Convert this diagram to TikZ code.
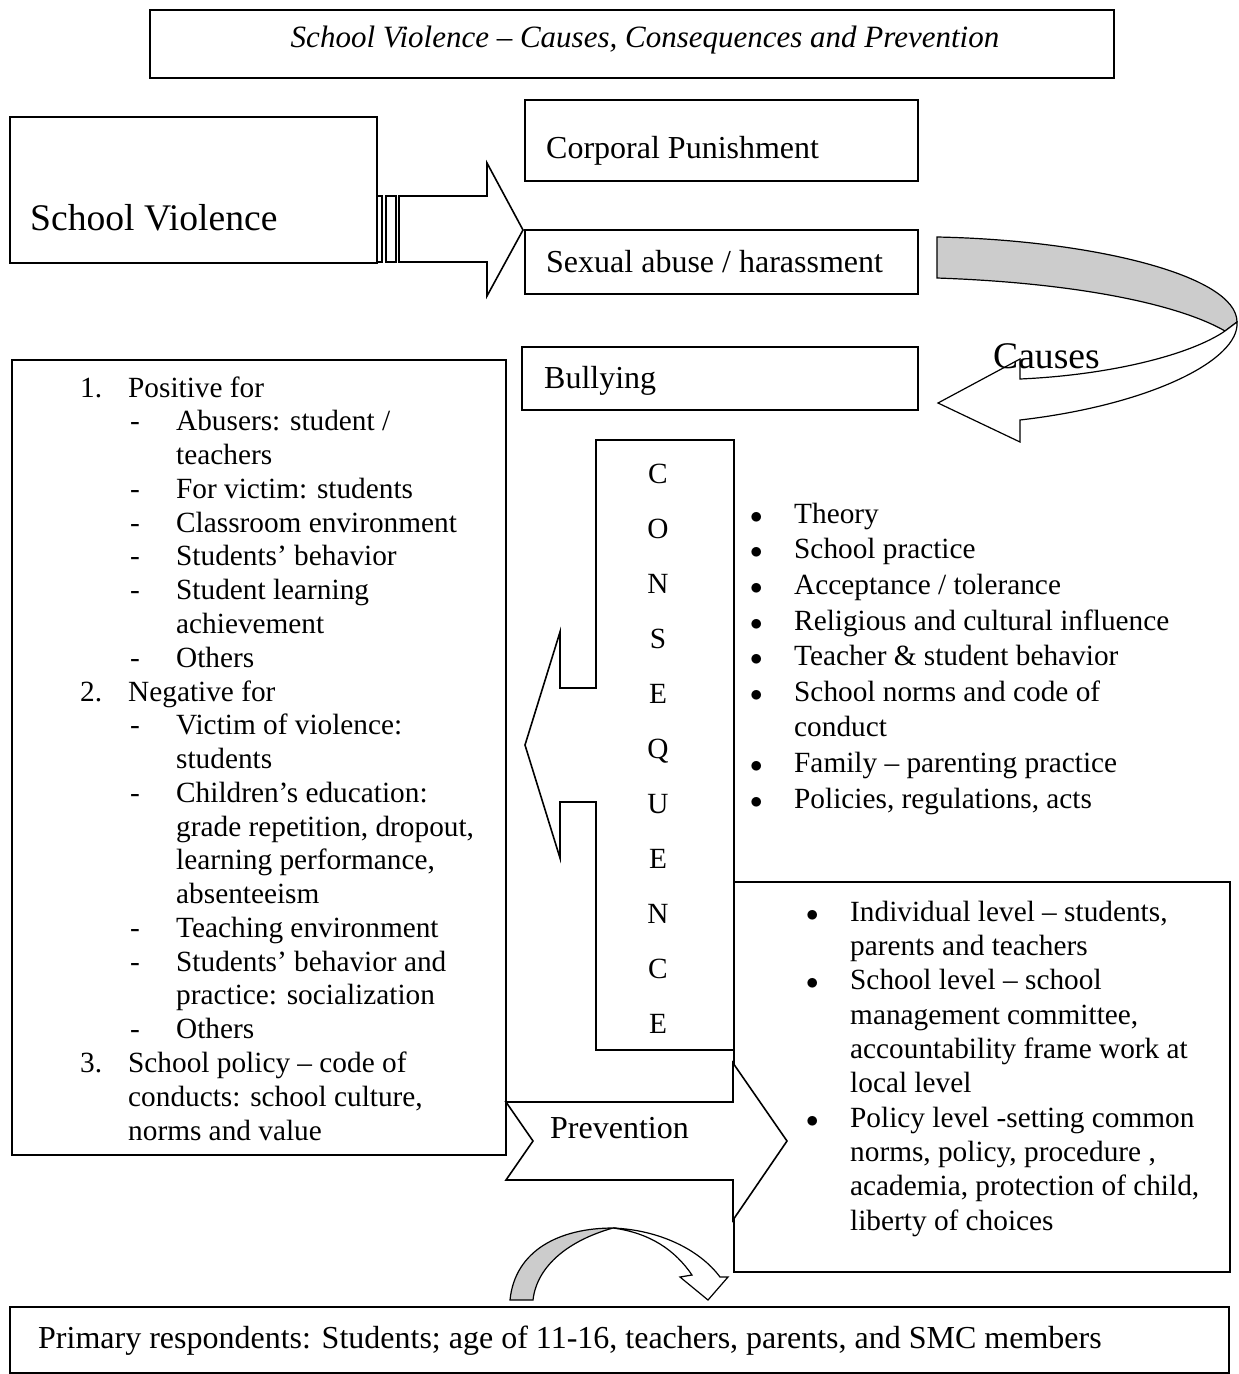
\documentclass[tikz,border=0pt]{standalone}
\usepackage{fontspec}
\setmainfont{Liberation Serif}

\begin{document}
\begin{tikzpicture}[x=1pt, y=-1pt,
  box/.style={draw, line width=1.6pt},
  ribbon/.style={draw, line width=1.2pt},
  txt/.style={inner sep=0pt, align=left, font=\fontsize{32}{33.77}\selectfont},
  lst/.style={inner sep=0pt, align=left, font=\fontsize{29.3}{33.77}\selectfont},
  big/.style={inner sep=0pt, font=\fontsize{37.6}{40}\selectfont}]
  \useasboundingbox (0,0) rectangle (1239,1374);

  % title
  \draw[box] (150,10) rectangle (1114,78);
  \node[txt, font=\fontsize{31}{34}\selectfont\itshape] (title) at (645,40) {School Violence -- Causes, Consequences and Prevention};

  % school violence with its striped arrow
  \draw[box] (10,117) rectangle (377,263);
  \node[big, anchor=base west] (violence) at (30,230) {School Violence};
  \draw[box] (377,196) rectangle (382,262);
  \draw[box] (386,196) rectangle (396,262);
  \draw[box, fill=white] (399,196) -- (487,196) -- (487,163) -- (523,230) -- (487,296) -- (487,262) -- (399,262) -- cycle;

  % forms of violence
  \draw[box] (525,100) rectangle (918,181);
  \node[txt, anchor=base west] (corporal) at (546,158) {Corporal Punishment};
  \draw[box] (525,230) rectangle (918,294);
  \node[txt, anchor=base west] (sexual) at (546,272) {Sexual abuse / harassment};
  \draw[box] (522,347) rectangle (918,410);
  \node[txt, anchor=base west] (bullying) at (544,388) {Bullying};

  % causes ribbon
  \draw[ribbon, fill=black!20] (937,237) .. controls (1090,240) and (1237,275) .. (1237,322) -- (1225,331) .. controls (1180,305) and (1080,283) .. (937,278) -- cycle;
  \draw[ribbon, fill=white] (1225,331) .. controls (1190,355) and (1110,375) .. (1020,379) -- (1020,359) -- (938,403) -- (1020,442) -- (1020,420) .. controls (1150,405) and (1240,360) .. (1237,322) -- cycle;
  \node[big, anchor=base west] (causes) at (993,368) {Causes};

  % consequences (multi-line nodes sit on their last line)
  \draw[box] (12,360) rectangle (506,1155);
  \node[lst, anchor=base west] (effects) at (80,1140) {%
    \makebox[48pt][l]{1.}Positive for\\
    \hspace*{50pt}\makebox[46pt][l]{-}Abusers: student /\\
    \hspace*{96pt}teachers\\
    \hspace*{50pt}\makebox[46pt][l]{-}For victim: students\\
    \hspace*{50pt}\makebox[46pt][l]{-}Classroom environment\\
    \hspace*{50pt}\makebox[46pt][l]{-}Students’ behavior\\
    \hspace*{50pt}\makebox[46pt][l]{-}Student learning\\
    \hspace*{96pt}achievement\\
    \hspace*{50pt}\makebox[46pt][l]{-}Others\\
    \makebox[48pt][l]{2.}Negative for\\
    \hspace*{50pt}\makebox[46pt][l]{-}Victim of violence:\\
    \hspace*{96pt}students\\
    \hspace*{50pt}\makebox[46pt][l]{-}Children’s education:\\
    \hspace*{96pt}grade repetition, dropout,\\
    \hspace*{96pt}learning performance,\\
    \hspace*{96pt}absenteeism\\
    \hspace*{50pt}\makebox[46pt][l]{-}Teaching environment\\
    \hspace*{50pt}\makebox[46pt][l]{-}Students’ behavior and\\
    \hspace*{96pt}practice: socialization\\
    \hspace*{50pt}\makebox[46pt][l]{-}Others\\
    \makebox[48pt][l]{3.}School policy -- code of\\
    \hspace*{48pt}conducts: school culture,\\
    \hspace*{48pt}norms and value};

  \draw[box, fill=white] (596,440) -- (734,440) -- (734,1050) -- (596,1050) -- (596,802) -- (560,802) -- (560,858) -- (525,745) -- (560,632) -- (560,688) -- (596,688) -- cycle;
  \foreach \l [count=\i from 0] in {C,O,N,S,E,Q,U,E,N,C,E}
    \node[lst, anchor=base] (letter\i) at (658,{483+55*\i}) {\l};

  % causes list
  \node[lst, anchor=base west, font=\fontsize{29.3}{35.6}\selectfont] (reasons) at (750,808) {%
    \makebox[44pt][l]{$\bullet$}Theory\\
    \makebox[44pt][l]{$\bullet$}School practice\\
    \makebox[44pt][l]{$\bullet$}Acceptance / tolerance\\
    \makebox[44pt][l]{$\bullet$}Religious and cultural influence\\
    \makebox[44pt][l]{$\bullet$}Teacher \& student behavior\\
    \makebox[44pt][l]{$\bullet$}School norms and code of\\
    \hspace*{44pt}conduct\\
    \makebox[44pt][l]{$\bullet$}Family -- parenting practice\\
    \makebox[44pt][l]{$\bullet$}Policies, regulations, acts};

  % prevention
  \draw[box] (734,882) rectangle (1230,1272);
  \node[lst, anchor=base west, font=\fontsize{29.3}{34.3}\selectfont] (levels) at (806,1230) {%
    \makebox[44pt][l]{$\bullet$}Individual level -- students,\\
    \hspace*{44pt}parents and teachers\\
    \makebox[44pt][l]{$\bullet$}School level -- school\\
    \hspace*{44pt}management committee,\\
    \hspace*{44pt}accountability frame work at\\
    \hspace*{44pt}local level\\
    \makebox[44pt][l]{$\bullet$}Policy level -setting common\\
    \hspace*{44pt}norms, policy, procedure ,\\
    \hspace*{44pt}academia, protection of child,\\
    \hspace*{44pt}liberty of choices};
  \draw[box, fill=white] (506,1102) -- (733,1102) -- (733,1063) -- (787,1141) -- (733,1220) -- (733,1180) -- (506,1180) -- (533,1141) -- cycle;
  \node[txt, anchor=base west] (prevention) at (550,1138) {Prevention};

  % ribbon down to the respondents
  \draw[ribbon, fill=black!20] (510,1300) .. controls (515,1250) and (560,1228) .. (613,1228) .. controls (570,1240) and (537,1265) .. (533,1300) -- cycle;
  \draw[ribbon, fill=white] (613,1228) .. controls (660,1230) and (700,1250) .. (720,1277) -- (728,1277) -- (708,1300) -- (680,1277) -- (692,1275) .. controls (675,1250) and (650,1233) .. (613,1228) -- cycle;

  % respondents
  \draw[box] (10,1307) rectangle (1229,1373);
  \node[txt, anchor=base west] (respondents) at (38,1348) {Primary respondents: Students; age of 11-16, teachers, parents, and SMC members};
\end{tikzpicture}
\end{document}
